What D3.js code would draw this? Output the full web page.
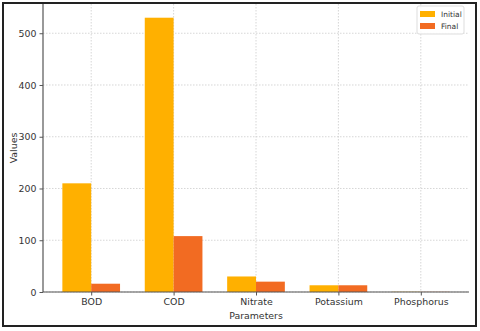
<!DOCTYPE html>
<html>
<head>
<meta charset="utf-8">
<script src="https://cdn.jsdelivr.net/npm/d3@7"></script>
<style>
  body { margin: 0; background: #fff; }
  text { font-family: "DejaVu Sans", sans-serif; fill: #333; }
</style>
</head>
<body>
<script>
// chart data
var categories = ["BOD", "COD", "Nitrate", "Potassium", "Phosphorus"];
var initial = [210, 530, 30, 13, 0.4];
var final = [16, 108, 20, 13, 0.3];
var seriesNames = ["Initial", "Final"];
var colors = ["#ffb000", "#f26b22"];
var yTicks = [0, 100, 200, 300, 400, 500];

var WIDTH = 480, HEIGHT = 331;
var PLOT_L = 43, PLOT_R = 469, PLOT_T = 4, PLOT_B = 292;
var BAR = 0.35;
var FS = 9.4; // tick font size

var svg = d3.select("body").append("svg")
  .attr("width", WIDTH).attr("height", HEIGHT);

// outer frame
svg.append("rect")
  .attr("x", 3).attr("y", 3).attr("width", 473).attr("height", 323)
  .attr("fill", "none").attr("stroke", "#222").attr("stroke-width", 2);

// scales (matplotlib style: index positions with 5% margin)
var x = d3.scaleLinear()
  .domain([-BAR - 0.235, categories.length - 1 + BAR + 0.235])
  .range([PLOT_L, PLOT_R]);
var y = d3.scaleLinear().domain([0, 556.5]).range([PLOT_B, PLOT_T]);

// grid
svg.append("g").selectAll("line").data(yTicks).enter().append("line")
  .attr("x1", PLOT_L).attr("x2", PLOT_R)
  .attr("y1", function(d) { return y(d); }).attr("y2", function(d) { return y(d); })
  .attr("stroke", "#ccc").attr("stroke-width", 0.8).attr("stroke-dasharray", "1.5,1.5");
svg.append("g").selectAll("line").data(categories).enter().append("line")
  .attr("x1", function(d, i) { return x(i); }).attr("x2", function(d, i) { return x(i); })
  .attr("y1", PLOT_T).attr("y2", PLOT_B)
  .attr("stroke", "#ccc").attr("stroke-width", 0.8).attr("stroke-dasharray", "1.5,1.5");

// bars
var series = [initial, final];
series.forEach(function(vals, s) {
  svg.append("g").selectAll("rect").data(vals).enter().append("rect")
    .attr("x", function(d, i) { return x(i - BAR + s * BAR); })
    .attr("width", x(BAR) - x(0))
    .attr("y", function(d) { return y(d); })
    .attr("height", function(d) { return y(0) - y(d); })
    .attr("fill", colors[s]);
});

// axes
var yAxis = svg.append("g").attr("transform", "translate(" + PLOT_L + ",0)")
  .call(d3.axisLeft(y).tickValues(yTicks).tickSize(3.5).tickPadding(3));
var xAxis = svg.append("g").attr("transform", "translate(0," + PLOT_B + ")")
  .call(d3.axisBottom(x).tickValues(d3.range(categories.length))
    .tickFormat(function(i) { return categories[i]; }).tickSize(3.5).tickPadding(3));
[yAxis, xAxis].forEach(function(a) {
  a.select(".domain").attr("stroke", "#555").attr("stroke-width", 1.2);
  a.selectAll(".tick line").attr("stroke", "#555");
  a.selectAll("text").attr("font-size", FS).attr("fill", "#333")
    .style("font-family", "DejaVu Sans, sans-serif");
});
yAxis.select(".domain").attr("d", "M0," + PLOT_B + "V" + PLOT_T);
xAxis.select(".domain").attr("d", "M" + PLOT_L + ",0H" + PLOT_R);

// axis labels
svg.append("text").attr("x", (PLOT_L + PLOT_R) / 2).attr("y", 319)
  .attr("text-anchor", "middle").attr("font-size", FS).text("Parameters");
svg.append("text").attr("transform", "translate(17," + (PLOT_T + PLOT_B) / 2 + ") rotate(-90)")
  .attr("text-anchor", "middle").attr("font-size", FS).text("Values");

// legend
var lg = svg.append("g").attr("transform", "translate(417,6)");
lg.append("rect").attr("width", 47).attr("height", 28).attr("rx", 2)
  .attr("fill", "#fff").attr("fill-opacity", 0.85).attr("stroke", "#ddd");
seriesNames.forEach(function(name, s) {
  lg.append("rect").attr("x", 3).attr("y", 5 + s * 12).attr("width", 15).attr("height", 6)
    .attr("fill", colors[s]);
  lg.append("text").attr("x", 24).attr("y", 11 + s * 12).attr("font-size", 7.5).text(name);
});
</script>
</body>
</html>
